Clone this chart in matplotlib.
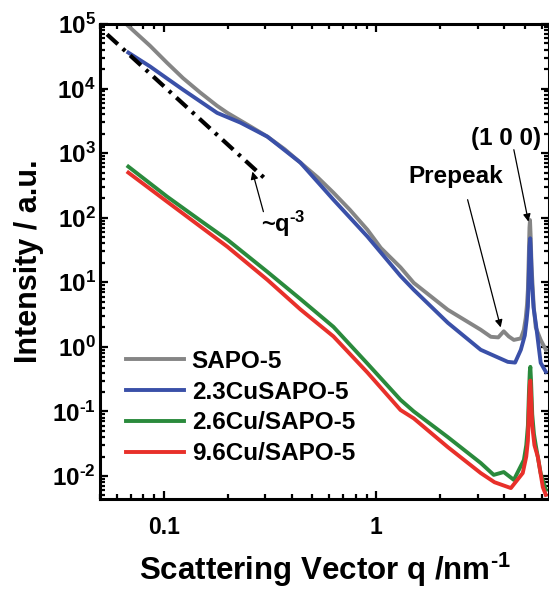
import numpy as np
import matplotlib
matplotlib.use('Agg')
import matplotlib.pyplot as plt
from matplotlib.ticker import LogLocator, FixedLocator, FuncFormatter, NullFormatter

plt.rcParams['font.family'] = ['Liberation Sans', 'DejaVu Sans']
plt.rcParams['font.weight'] = 'bold'
plt.rcParams['mathtext.fontset'] = 'custom'
plt.rcParams['mathtext.rm'] = 'Liberation Sans:bold'
plt.rcParams['mathtext.bf'] = 'Liberation Sans:bold'
plt.rcParams['mathtext.it'] = 'Liberation Sans:bold:italic'

HYPH = '\u2010'  # short hyphen used for negative exponents

# SAXS curves, values
q_sapo = [0.068, 0.086, 0.1035, 0.123, 0.148, 0.178, 0.199, 0.25, 0.307, 0.37, 0.439, 0.53,
          0.628, 0.75, 0.908, 1.05, 1.30, 1.50, 2.17, 3.10, 3.46, 3.75, 3.98, 4.2, 4.44, 4.79,
          4.95, 5.05, 5.12, 5.17, 5.22, 5.26, 5.29, 5.33, 5.38, 5.45, 5.51, 5.63, 5.94, 6.28]
I_sapo = [9.3e4, 4.6e4, 2.5e4, 1.45e4, 8.7e3, 5.4e3, 4.2e3, 2.7e3, 1.8e3, 1.15e3, 713, 420,
          244, 133, 65, 34, 17, 9.8, 3.75, 1.84, 1.43, 1.40, 1.74, 1.45, 1.28, 1.35,
          1.84, 2.8, 4.5, 7.65, 25, 70, 92, 50, 18, 8, 4.17, 2.0, 1.28, 0.9]

q_23cu = [0.068, 0.086, 0.1035, 0.123, 0.178, 0.229, 0.307, 0.439, 0.628, 0.908, 1.30, 1.50,
          2.17, 3.10, 4.16, 4.5, 4.79, 5.0, 5.10, 5.17, 5.22, 5.26, 5.30, 5.34, 5.40, 5.50,
          5.63, 5.94, 6.28]
I_23cu = [3.6e4, 2.2e4, 1.43e4, 9.6e3, 4.2e3, 2.97e3, 1.8e3, 713, 190, 51, 12.5, 7.65,
          2.36, 0.90, 0.585, 0.57, 0.90, 1.5, 2.6, 4.17, 12, 35, 48, 30, 10, 4.0,
          2.36, 0.565, 0.41]

q_26cu = [0.068, 0.1035, 0.148, 0.199, 0.307, 0.439, 0.628, 0.908, 1.30, 1.50, 2.17, 3.10,
          3.57, 3.98, 4.44, 4.95, 5.08, 5.17, 5.23, 5.28, 5.31, 5.35, 5.42, 5.52, 5.63, 5.94, 6.28]
I_26cu = [618, 212, 91, 45.6, 14.5, 5.5, 2.04, 0.55, 0.151, 0.1, 0.040, 0.0159,
          0.0104, 0.0115, 0.0087, 0.0177, 0.03, 0.06, 0.2, 0.42, 0.49, 0.3, 0.09, 0.045,
          0.030, 0.011, 0.0061]

q_96cu = [0.068, 0.1035, 0.199, 0.307, 0.439, 0.628, 0.908, 1.30, 1.50, 2.17, 3.10, 3.6,
          4.30, 4.89, 5.08, 5.17, 5.23, 5.28, 5.31, 5.35, 5.42, 5.55, 5.76, 6.08, 6.28]
I_96cu = [499, 177, 35.5, 10.9, 3.8, 1.45, 0.40, 0.105, 0.078, 0.028, 0.0111, 0.0080,
          0.0065, 0.0111, 0.02, 0.035, 0.12, 0.26, 0.30, 0.18, 0.06, 0.03, 0.0197, 0.0067, 0.0051]

# q^-3 guide line
q_guide = [0.054, 0.30]
I_guide = [6.9e4, 400]

labels = ['SAPO-5', '2.3CuSAPO-5', '2.6Cu/SAPO-5', '9.6Cu/SAPO-5']
colors = ['#858585', '#3a50a8', '#2a8a3c', '#e8302a']


def ytick_fmt(v, pos):
    e = int(round(np.log10(v)))
    if e < 0:
        return '$10^{' + HYPH + str(-e) + '}$'
    return '$10^{' + str(e) + '}$'


fig = plt.figure(figsize=(5.49, 5.89), dpi=100)
ax = fig.add_axes([0.1821, 0.1528, 0.8179, 0.8065])

series = [(q_sapo, I_sapo), (q_23cu, I_23cu), (q_26cu, I_26cu), (q_96cu, I_96cu)]
for (q, I), lab, c in zip(series, labels, colors):
    ax.plot(q, I, color=c, lw=2.8, label=lab, solid_joinstyle='round')

ax.plot(q_guide, I_guide, color='black', lw=3, linestyle=(0, (3.5, 1.6, 0.8, 1.6)))

ax.set_xscale('log')
ax.set_yscale('log')
ax.set_xlim(0.05, 6.5)
ax.set_ylim(4.4e-3, 1e5)

# ticks
ax.xaxis.set_major_locator(FixedLocator([0.1, 1]))
ax.xaxis.set_major_formatter(FuncFormatter(lambda v, p: '%g' % v))
ax.xaxis.set_minor_locator(LogLocator(base=10, subs=np.arange(2, 10)))
ax.xaxis.set_minor_formatter(NullFormatter())
ax.yaxis.set_major_locator(LogLocator(base=10, numticks=20))
ax.yaxis.set_major_formatter(FuncFormatter(ytick_fmt))
ax.yaxis.set_minor_locator(LogLocator(base=10, subs=np.arange(2, 10), numticks=20))
ax.yaxis.set_minor_formatter(NullFormatter())

ax.tick_params(which='both', direction='in', top=True, right=True, width=1.6)
ax.tick_params(which='major', length=6)
ax.tick_params(which='minor', length=3.5)
ax.tick_params(axis='x', which='major', pad=12, labelsize=16.5)
ax.tick_params(axis='y', which='major', pad=3, labelsize=17.5)
for s in ax.spines.values():
    s.set_linewidth(2.2)

ax.set_xlabel('Scattering Vector q /nm$^{' + HYPH + '1}$', fontsize=22.5, fontweight='bold')
ax.xaxis.label.set_va('baseline')
ax.xaxis.set_label_coords(0.5, -0.170)
ax.set_ylabel('Intensity / a.u.', fontsize=22, fontweight='bold', labelpad=6)

# annotations
arrow = dict(arrowstyle='-|>', color='black', lw=0.9, mutation_scale=11, shrinkA=0, shrinkB=0)
ax.annotate('', xy=(3.85, 2.0), xytext=(2.69, 190), arrowprops=arrow)
ax.text(2.36, 430, 'Prepeak', fontsize=17.5, fontweight='bold', ha='center', va='center')
ax.annotate('', xy=(5.2, 87), xytext=(4.44, 1130), arrowprops=arrow)
ax.text(4.07, 1680, '(1 0 0)', fontsize=17.5, fontweight='bold', ha='center', va='center')
ax.annotate('', xy=(0.261, 517), xytext=(0.294, 124), arrowprops=arrow)
ax.text(0.365, 81, '~q$^{' + HYPH + '3}$', fontsize=17, fontweight='bold', ha='center', va='center')

ax.legend(loc='upper left', bbox_to_anchor=(0.058, 0.314), frameon=False,
          prop={'size': 17.5, 'weight': 'bold'}, handlelength=2.4, handletextpad=0.3,
          labelspacing=0.32, borderpad=0, borderaxespad=0)

fig.savefig('out.png', dpi=100)
